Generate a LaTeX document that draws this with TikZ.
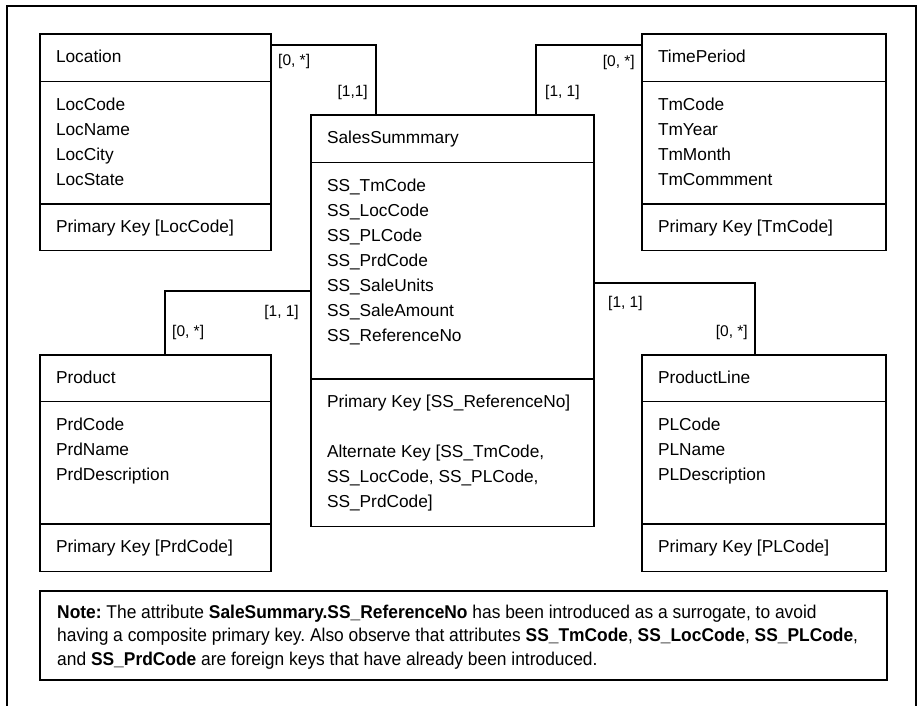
\documentclass[tikz,border=0pt]{standalone}
\usepackage{fontspec}
\setmainfont{Liberation Sans}
\newfontfamily\notefont[FakeStretch=0.94]{Liberation Sans}
\usetikzlibrary{shapes.multipart,calc}

% one compartment of an entity box: width, height, text
\newcommand{\entpart}[3]{\parbox[c][#2pt][t]{#1pt}{\raggedright\rule{0pt}{28pt}#3}}

\tikzset{
    entity/.style={
           rectangle split,
           rectangle split parts=3,
           draw=black, line width=1.5pt,
           inner xsep=16pt, inner ysep=0pt,
           outer sep=0pt,
           anchor=north west,
           font=\fontsize{17.3pt}{25pt}\selectfont,
           },
    link/.style={draw=black, line width=1.5pt},
    card/.style={font=\fontsize{15.5pt}{18pt}\selectfont, inner sep=0pt},
    notebox/.style={
           draw=black, line width=1.5pt,
           anchor=north west, outer sep=0pt,
           minimum width=847pt, minimum height=89pt,
           inner sep=0pt,
           },
}

\begin{document}
\frenchspacing
\begin{tikzpicture}[x=1pt, y=-1pt]
    \useasboundingbox (0,0) rectangle (919,706);
    % outer frame
    \draw[line width=2pt] (7,706) -- (7,6) -- (916,6) -- (916,706);

    % entities
    \node[entity] (loc) at (40,34)
    {\entpart{199}{46}{Location}
     \nodepart{two}\entpart{199}{121}{LocCode\\LocName\\LocCity\\LocState}
     \nodepart{three}\entpart{199}{45}{Primary Key [LocCode]}};

    \node[entity] (tp) at (642,34)
    {\entpart{212}{46}{TimePeriod}
     \nodepart{two}\entpart{212}{121}{TmCode\\TmYear\\TmMonth\\TmCommment}
     \nodepart{three}\entpart{212}{45}{Primary Key [TmCode]}};

    \node[entity] (ss) at (311,115)
    {\entpart{251}{46}{SalesSummmary}
     \nodepart{two}\entpart{251}{215}{SS\_TmCode\\SS\_LocCode\\SS\_PLCode\\SS\_PrdCode\\SS\_SaleUnits\\SS\_SaleAmount\\SS\_ReferenceNo}
     \nodepart{three}\entpart{251}{146}{Primary Key [SS\_ReferenceNo]\\[25pt]Alternate Key [SS\_TmCode,\\SS\_LocCode, SS\_PLCode,\\SS\_PrdCode]}};

    \node[entity] (prd) at (40,355)
    {\entpart{199}{45}{Product}
     \nodepart{two}\entpart{199}{121}{PrdCode\\PrdName\\PrdDescription}
     \nodepart{three}\entpart{199}{46}{Primary Key [PrdCode]}};

    \node[entity] (pl) at (642,355)
    {\entpart{212}{45}{ProductLine}
     \nodepart{two}\entpart{212}{121}{PLCode\\PLName\\PLDescription}
     \nodepart{three}\entpart{212}{46}{Primary Key [PLCode]}};

    % relationships with cardinalities
    \draw[link] ($(loc.north east)+(0,11)$) coordinate (locend)
        -| ($(ss.north west)+(65,0)$) coordinate (ssloc);
    \node[card, anchor=west] (locmany) at ($(locend)+(7,16)$) {[0, *]};
    \node[card, anchor=east] (locone) at ($(ssloc)+(-8,-23)$) {[1,1]};

    \draw[link] ($(tp.north west)+(0,11)$) coordinate (tpend)
        -| ($(ss.north west)+(225,0)$) coordinate (sstp);
    \node[card, anchor=east] (tpmany) at ($(tpend)+(-7,17)$) {[0, *]};
    \node[card, anchor=west] (tpone) at ($(sstp)+(9,-23)$) {[1, 1]};

    \draw[link] ($(ss.north west)+(0,176)$) coordinate (ssprd)
        -| ($(prd.north west)+(125,0)$) coordinate (prdend);
    \node[card, anchor=east] (prdone) at ($(ssprd)+(-12,21)$) {[1, 1]};
    \node[card, anchor=west] (prdmany) at ($(prdend)+(7,-23)$) {[0, *]};

    \draw[link] ($(ss.north east)+(0,168)$) coordinate (sspl)
        -| ($(pl.north west)+(113,0)$) coordinate (plend);
    \node[card, anchor=west] (plone) at ($(sspl)+(14,20)$) {[1, 1]};
    \node[card, anchor=east] (plmany) at ($(plend)+(-7,-23)$) {[0, *]};

    % note
    \node[notebox] (note) at (40,591) {};
    \node[anchor=north west, align=left, inner sep=0pt,
          font=\notefont\fontsize{18.5pt}{23.3pt}\selectfont] (notetext)
        at ($(note.north west)+(17,14)$)
    {\textbf{Note:} The attribute \textbf{SaleSummary.SS\_ReferenceNo} has been introduced as a surrogate, to avoid\\
     having a composite primary key. Also observe that attributes \textbf{SS\_TmCode}, \textbf{SS\_LocCode}, \textbf{SS\_PLCode},\\
     and \textbf{SS\_PrdCode} are foreign keys that have already been introduced.};
\end{tikzpicture}
\end{document}
